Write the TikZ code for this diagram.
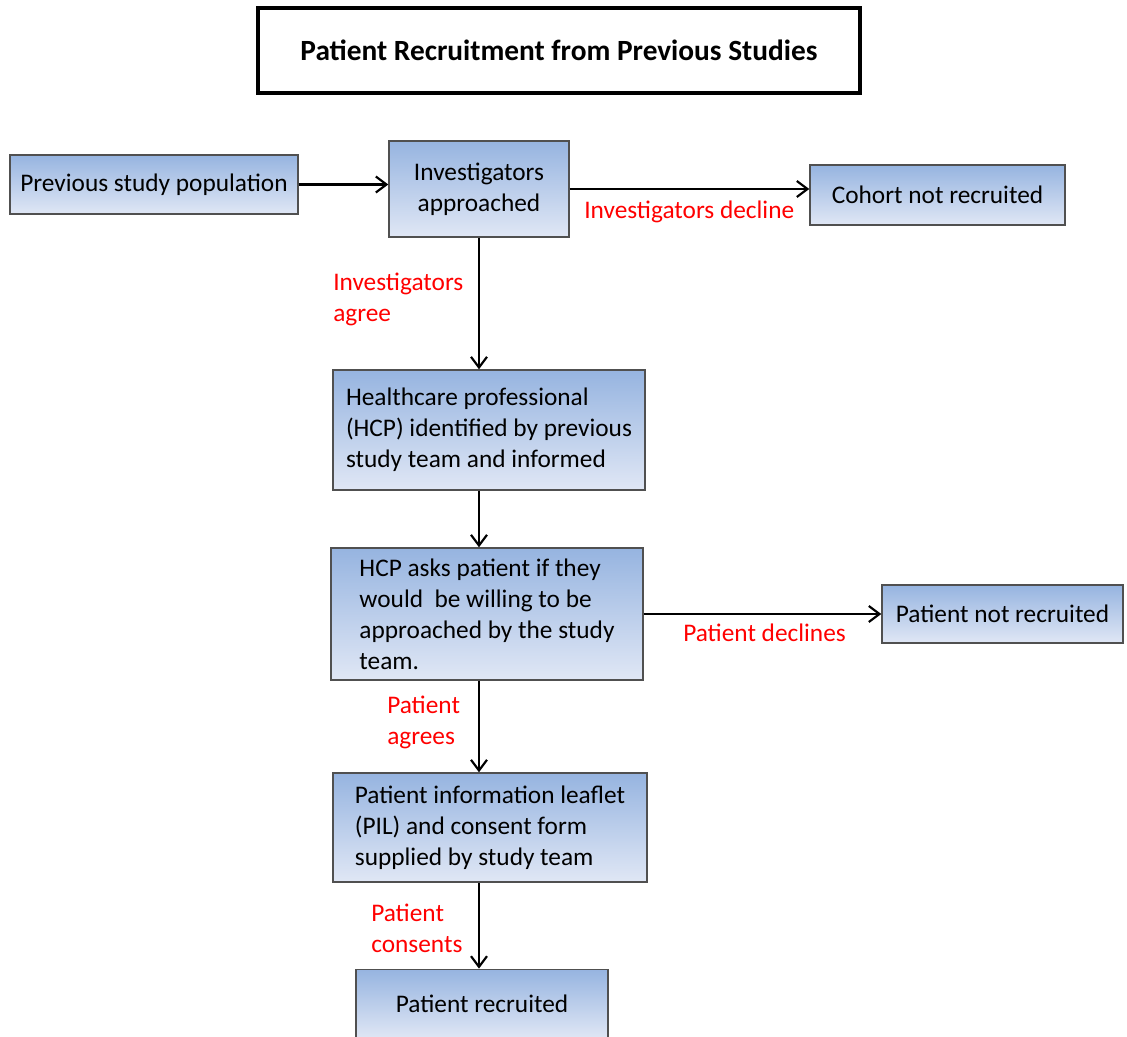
\documentclass[tikz,border=0pt]{standalone}
\usepackage{fontspec}
\setmainfont{Carlito}
\usepackage{xcolor}
\usetikzlibrary{positioning,arrows.meta,calc}

\definecolor{boxtop}{RGB}{150,180,224}
\definecolor{boxbot}{RGB}{224,231,245}
\definecolor{boxline}{RGB}{80,80,80}
\newcommand{\boxfont}{\fontsize{19}{23.25}\selectfont}
\newcommand{\headfont}{\fontsize{22}{26}\selectfont\bfseries}

\begin{document}
\begin{tikzpicture}[
    x={(0.75pt,0)}, y={(0,-0.75pt)},
    stagebox/.style={draw=boxline, line width=1.1pt, top color=boxtop, bottom color=boxbot,
      font=\boxfont, inner sep=0pt, align=center},
    titlebox/.style={draw=black, line width=2.4pt, font=\headfont, inner sep=0pt},
    decision/.style={font=\boxfont, text=red, align=left, inner sep=0pt},
    edge/.style={line width=1.7pt, -{Straight Barb[length=8pt, width=12pt, line width=1.6pt]}},
  ]
  \useasboundingbox (0,0) rectangle (1127,1036);

  % Title
  \node[titlebox, minimum width=451.5pt, minimum height=63.75pt] (title) at (559,50.5)
    {Patient Recruitment from Previous Studies};

  % Top row
  \node[stagebox, minimum width=216pt, minimum height=44.25pt] (prev) at (154,184.5)
    {Previous study population};
  \node[stagebox, minimum width=135pt, minimum height=72pt] (inv) at (479,189)
    {Investigators\\approached};
  \node[stagebox, minimum width=191.25pt, minimum height=45pt] (cohort) at (937.5,195)
    {Cohort not recruited};

  % Main column
  \node[stagebox, align=left, minimum width=234pt, minimum height=90pt] (hcp) at (489,430)
    {Healthcare professional\\(HCP) identified by previous\\study team and informed};
  \node[stagebox, align=left, minimum width=234pt, minimum height=99pt] (ask) at (487,614)
    {HCP asks patient if they\\would\ \ be willing to be\\approached by the study\\team.};
  \node[stagebox, minimum width=180.75pt, minimum height=43.5pt] (notrec) at (1002.5,614)
    {Patient not recruited};
  \node[stagebox, align=left, minimum width=235.5pt, minimum height=81.75pt] (pil) at (490,827.5)
    {Patient information leaflet\\(PIL) and consent form\\supplied by study team};
  \node[stagebox, minimum width=189pt, minimum height=52pt] (rec) at (482,1004)
    {Patient recruited};

  % Edge labels
  \node[decision, anchor=west] (invno) at (584,212) {Investigators decline};
  \node[decision, anchor=west] (invyes) at (333,299) {Investigators\\agree};
  \node[decision, anchor=west] (patno) at (683,633) {Patient declines};
  \node[decision, anchor=west] (patyes) at (387,722) {Patient\\agrees};
  \node[decision, anchor=west] (patok) at (371,928) {Patient\\consents};

  % Edges
  \draw[edge] (prev.east) -- (prev.east -| inv.west);
  \draw[edge] (inv.east) -- (cohort.west |- inv.east);
  \draw[edge] (inv.south) -- (inv.south |- hcp.north);
  \draw[edge] (hcp.south -| inv.south) -- (ask.north -| inv.south);
  \draw[edge] (ask.east) -- (notrec.west);
  \draw[edge] (ask.south -| inv.south) -- (pil.north -| inv.south);
  \draw[edge] (pil.south -| inv.south) -- (rec.north -| inv.south);
\end{tikzpicture}
\end{document}
